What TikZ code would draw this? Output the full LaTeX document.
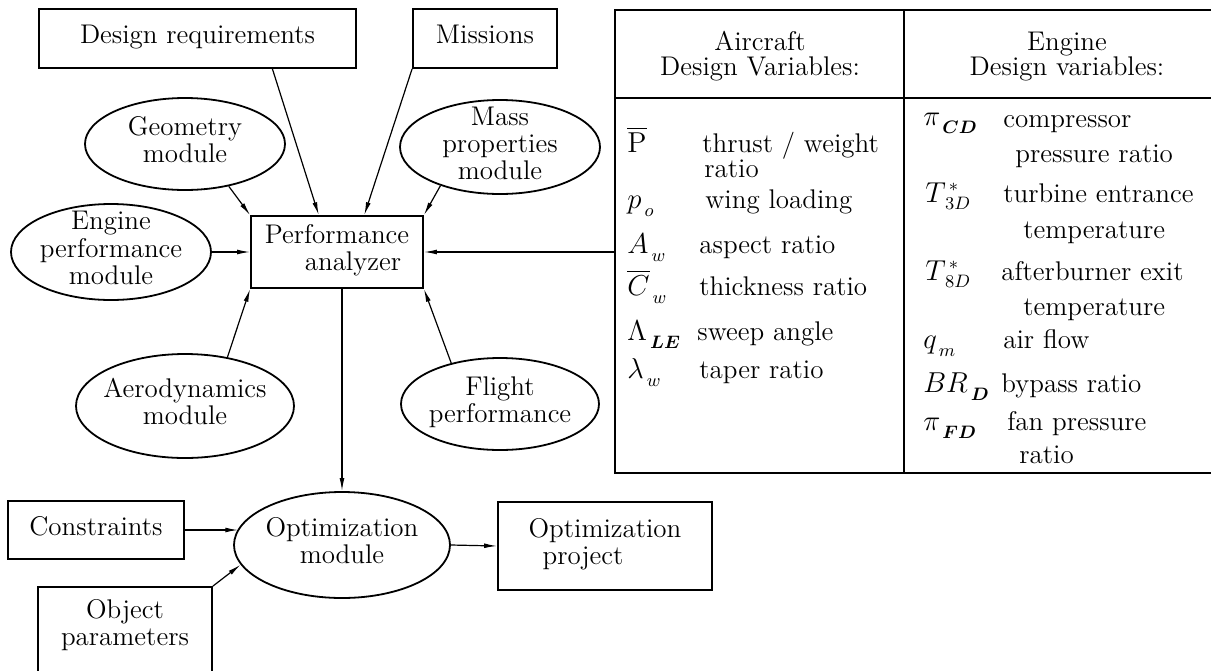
\documentclass[tikz,border=0pt]{standalone}
\usepackage{amsmath}
\usetikzlibrary{arrows.meta,shapes.geometric,calc}
% Text lines of a node, kept out of the node's size so the shape size is fixed
\newcommand{\nodelines}[2][c]{\makebox[0pt]{\smash{\raisebox{-3.4pt}{\begin{tabular}{@{}#1@{}}#2\end{tabular}}}}}
% Subscript set a little apart and low, as in the variable lists
\newcommand{\lowsub}[1]{_{\,\raisebox{-2pt}{$\scriptstyle #1$}}}
\begin{document}
\begin{tikzpicture}[x=0.5pt,y=-0.5pt,
  every node/.style={font=\fontsize{13.5}{13.5}\selectfont},
  box/.style={draw,line width=0.9pt,inner sep=0pt},
  oval/.style={draw,ellipse,line width=0.9pt,inner sep=0pt},
  link/.style={line width=0.6pt,-{Latex[length=6.5pt,width=2.4pt]}},
  cell/.style={anchor=base west,inner sep=0pt},
  head/.style={anchor=base,inner sep=0pt}]
\useasboundingbox (0,0) rectangle (1211,670);

% inputs
\node[box,minimum width=158.5pt,minimum height=29.5pt] (dr) at (197.5,38.5) {\nodelines{Design requirements}};
\node[box,minimum width=72pt,minimum height=29.5pt] (mis) at (485,38.5) {\nodelines{Missions}};
\node[oval,minimum width=100pt,minimum height=46pt] (geo) at (185,144) {\nodelines{Geometry\\module}};
\node[oval,minimum width=100pt,minimum height=47pt] (mass) at (500,147) {\nodelines{Mass\\properties\\module}};
\node[oval,minimum width=100pt,minimum height=48pt] (eng) at (111,252) {\nodelines{Engine\\performance\\module}};
\node[oval,minimum width=109pt,minimum height=52pt] (aero) at (185,406) {\nodelines{Aerodynamics\\module}};
\node[oval,minimum width=99pt,minimum height=46pt] (flight) at (500,404) {\nodelines{Flight\\performance}};

% analyzer and optimizer
\node[box,minimum width=86pt,minimum height=36pt] (pa) at (337,252) {\nodelines[l]{Performance\\\hspace*{20pt}analyzer}};
\node[oval,minimum width=108pt,minimum height=53pt] (opt) at (342,545) {\nodelines{Optimization\\module}};
\node[box,minimum width=88pt,minimum height=29pt] (con) at (96,530) {\nodelines{Constraints}};
\node[box,minimum width=107pt,minimum height=44pt] (proj) at (605,546) {\nodelines[l]{Optimization\\\hspace*{7pt}project}};
\node[box,minimum width=87pt,minimum height=50pt] (obj) at (125,637)
  {\makebox[0pt]{\smash{\raisebox{1.6pt}{\begin{tabular}{@{}c@{}}Object\\parameters\end{tabular}}}}};

% design variable table
\node[box,minimum width=299.5pt,minimum height=231.5pt] (tab) at (914.5,241.5) {};
\draw[line width=0.9pt] (904,10) -- (904,473);
\draw[line width=0.9pt] (615,98) -- (1214,98);

\node[head] (h1) at (760,50) {Aircraft};
\node[head] (h2) at (760,75) {Design Variables:};
\node[head] (h3) at (1067,50) {Engine};
\node[head] (h4) at (1067,75) {Design variables:};

\node[cell] (a1) at (627,152) {$\overline{\mathrm{P}}$};
\node[cell] (a1t) at (702,152) {thrust / weight};
\node[cell] (a1u) at (704,177) {ratio};
\node[cell] (a2) at (627,208) {$p\lowsub{o}$};
\node[cell] (a2t) at (705,208) {wing loading};
\node[cell] (a3) at (627,253) {$A\lowsub{w}$};
\node[cell] (a3t) at (699,253) {aspect ratio};
\node[cell] (a4) at (627,295) {$\overline{C}\lowsub{w}$};
\node[cell] (a4t) at (699,295) {thickness ratio};
\node[cell] (a5) at (627,340) {$\Lambda\lowsub{\boldsymbol{LE}}$};
\node[cell] (a5t) at (697,340) {sweep angle};
\node[cell] (a6) at (627,378) {$\lambda\lowsub{w}$};
\node[cell] (a6t) at (699,378) {taper ratio};

\node[cell] (e1) at (923,125) {$\pi\lowsub{\boldsymbol{CD}}$};
\node[cell] (e1t) at (1003,127) {compressor};
\node[cell] (e1u) at (1015,162) {pressure ratio};
\node[cell] (e2) at (925,202) {$T^{\,*}_{\,3D}$};
\node[cell] (e2t) at (1003,202) {turbine entrance};
\node[cell] (e2u) at (1023,238) {temperature};
\node[cell] (e3) at (925,280) {$T^{\,*}_{\,8D}$};
\node[cell] (e3t) at (1001,280) {afterburner exit};
\node[cell] (e3u) at (1023,315) {temperature};
\node[cell] (e4) at (923,348) {$q\lowsub{m}$};
\node[cell] (e4t) at (1003,348) {air flow};
\node[cell] (e5) at (923,392) {$BR\lowsub{\boldsymbol{D}}$};
\node[cell] (e5t) at (1001,392) {bypass ratio};
\node[cell] (e6) at (923,430) {$\pi\lowsub{\boldsymbol{FD}}$};
\node[cell] (e6t) at (1007,430) {fan pressure};
\node[cell] (e6u) at (1019,463) {ratio};

% connectors
\draw[link] ($(dr.south west)!0.735!(dr.south east)$) -- ($(pa.north west)!0.395!(pa.north east)$);
\draw[link] (mis.south west) -- ($(pa.north west)!0.657!(pa.north east)$);
\draw[link] (geo.-44) -- (pa.north west);
\draw[link] (mass.213) -- (pa.north east);
\draw[link] (eng.east) -- (pa.west);
\draw[link] (tab.west |- pa.east) -- (pa.east);
\draw[link] (aero.49) -- (pa.south west);
\draw[link] (flight.140) -- (pa.south east);
\draw[link] (pa.south -| opt.north) -- (opt.north);
\draw[link] (con.east) -- (con.east -| opt.171);
\draw[link] (obj.north east) -- (opt.191);
\draw[link] (opt.east) -- (proj.west);
\end{tikzpicture}
\end{document}
